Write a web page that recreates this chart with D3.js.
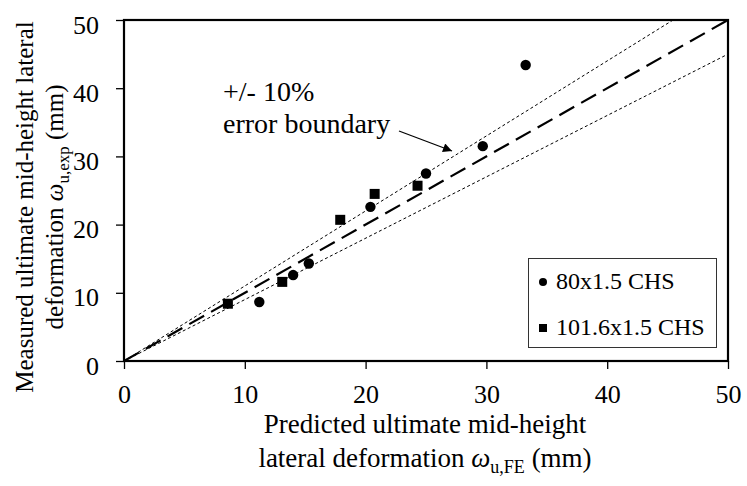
<!DOCTYPE html>
<html>
<head>
<meta charset="utf-8">
<script src="https://cdn.jsdelivr.net/npm/d3@7"></script>
<style>
  html, body { margin: 0; padding: 0; background: #fff; }
  svg { display: block; font-family: "Liberation Serif", "Times New Roman", serif; }
</style>
</head>
<body>
<svg id="chart" width="747" height="486"></svg>
<script>
// Predicted (FE) vs measured ultimate mid-height lateral deformation, mm
const chs80Pred = [11.2, 14.0, 15.3, 20.4, 25.0, 29.7, 33.25];
const chs80Meas = [8.65, 12.6, 14.3, 22.6, 27.5, 31.5, 43.4];
const chs101Pred = [8.6, 13.1, 17.9, 20.75, 24.3];
const chs101Meas = [8.4, 11.6, 20.7, 24.5, 25.7];
const tickValues = [0, 10, 20, 30, 40, 50];
const seriesNames = ["80x1.5 CHS", "101.6x1.5 CHS"];
const boundFactors = [1.1, 0.9];

const svg = d3.select("#chart");
const x = d3.scaleLinear().domain([0, 50]).range([124, 728]);
const y = d3.scaleLinear().domain([0, 50]).range([361, 20]);

// Axes with outward ticks
const xAxis = d3.axisBottom(x).tickValues(tickValues).tickSize(8).tickSizeOuter(0).tickPadding(16);
const yAxis = d3.axisLeft(y).tickValues(tickValues).tickSize(8).tickSizeOuter(0).tickPadding(17);

const gx = svg.append("g").attr("transform", `translate(0,${y(0)})`).call(xAxis);
const gy = svg.append("g").attr("transform", `translate(${x(0)},0)`).call(yAxis);
[gx, gy].forEach(g => {
  g.attr("font-family", null);
  g.select(".domain").remove();
  g.selectAll(".tick line").attr("stroke", "#000").attr("stroke-width", 1.3);
  g.selectAll(".tick text").attr("fill", "#000").style("font-size", "26px");
});
gy.selectAll(".tick text").attr("dy", "0.5em");

// Plot frame
svg.append("rect")
  .attr("x", x(0)).attr("y", y(50))
  .attr("width", x(50) - x(0)).attr("height", y(0) - y(50))
  .attr("fill", "none").attr("stroke", "#000").attr("stroke-width", 2.2);

// +/- 10 % boundaries
boundFactors.forEach(f => {
  const xEnd = Math.min(50, 50 / f);
  svg.append("line")
    .attr("x1", x(0)).attr("y1", y(0))
    .attr("x2", x(xEnd)).attr("y2", y(xEnd * f))
    .attr("stroke", "#000").attr("stroke-width", 1)
    .attr("stroke-dasharray", "3,2.5");
});

// 1:1 line
svg.append("line")
  .attr("x1", x(0)).attr("y1", y(0))
  .attr("x2", x(50)).attr("y2", y(50))
  .attr("stroke", "#000").attr("stroke-width", 2.2)
  .attr("stroke-dasharray", "17,8");

// Data markers
svg.append("g").selectAll("circle")
  .data(d3.zip(chs80Pred, chs80Meas)).join("circle")
  .attr("cx", d => x(d[0])).attr("cy", d => y(d[1]))
  .attr("r", 5.2).attr("fill", "#000");

const sq = 10;
svg.append("g").selectAll("rect")
  .data(d3.zip(chs101Pred, chs101Meas)).join("rect")
  .attr("x", d => x(d[0]) - sq / 2).attr("y", d => y(d[1]) - sq / 2)
  .attr("width", sq).attr("height", sq).attr("fill", "#000");

// Annotation with arrow
svg.append("defs").append("marker")
  .attr("id", "arrowHead").attr("viewBox", "0 0 10 10")
  .attr("refX", 10).attr("refY", 5)
  .attr("markerWidth", 11).attr("markerHeight", 9)
  .attr("markerUnits", "userSpaceOnUse")
  .attr("orient", "auto")
  .append("path").attr("d", "M0,0 L10,5 L0,10 Z").attr("fill", "#000");

const note = svg.append("text").attr("x", 223).attr("y", 101)
  .style("font-size", "28px").attr("fill", "#000");
note.append("tspan").attr("x", 223).text("+/- 10%");
note.append("tspan").attr("x", 223).attr("y", 133).text("error boundary");

svg.append("line")
  .attr("x1", 399).attr("y1", 131).attr("x2", 452).attr("y2", 151)
  .attr("stroke", "#000").attr("stroke-width", 1.3)
  .attr("marker-end", "url(#arrowHead)");

// Legend
const lg = svg.append("g");
lg.append("rect").attr("x", 528.5).attr("y", 258.5).attr("width", 188).attr("height", 89)
  .attr("fill", "#fff").attr("stroke", "#333").attr("stroke-width", 1);
lg.append("circle").attr("cx", 543).attr("cy", 282).attr("r", 4).attr("fill", "#000");
lg.append("rect").attr("x", 539).attr("y", 324).attr("width", 8).attr("height", 8).attr("fill", "#000");
lg.append("text").attr("x", 556).attr("y", 289).style("font-size", "24px").text(seriesNames[0]);
lg.append("text").attr("x", 556).attr("y", 335).style("font-size", "24px").text(seriesNames[1]);

// Axis titles
const xt = svg.append("text").attr("text-anchor", "middle").style("font-size", "27px");
xt.append("tspan").attr("x", 425).attr("y", 433).text("Predicted ultimate mid-height");
const xl2 = xt.append("tspan").attr("x", 425).attr("y", 467);
xl2.append("tspan").text("lateral deformation ");
xl2.append("tspan").style("font-style", "italic").text("ω");
xl2.append("tspan").attr("dy", 6).style("font-size", "18px").text("u,FE");
xl2.append("tspan").attr("dy", -6).text(" (mm)");

const yt = svg.append("text").attr("text-anchor", "middle").style("font-size", "25px")
  .attr("transform", "translate(0,207) rotate(-90)");
yt.append("tspan").attr("x", 0).attr("y", 33).text("Measured ultimate mid-height lateral");
const yl2 = yt.append("tspan").attr("x", 0).attr("y", 63);
yl2.append("tspan").text("deformation ");
yl2.append("tspan").style("font-style", "italic").text("ω");
yl2.append("tspan").attr("dy", 6).style("font-size", "17px").text("u,exp");
yl2.append("tspan").attr("dy", -6).text(" (mm)");
</script>
</body>
</html>
